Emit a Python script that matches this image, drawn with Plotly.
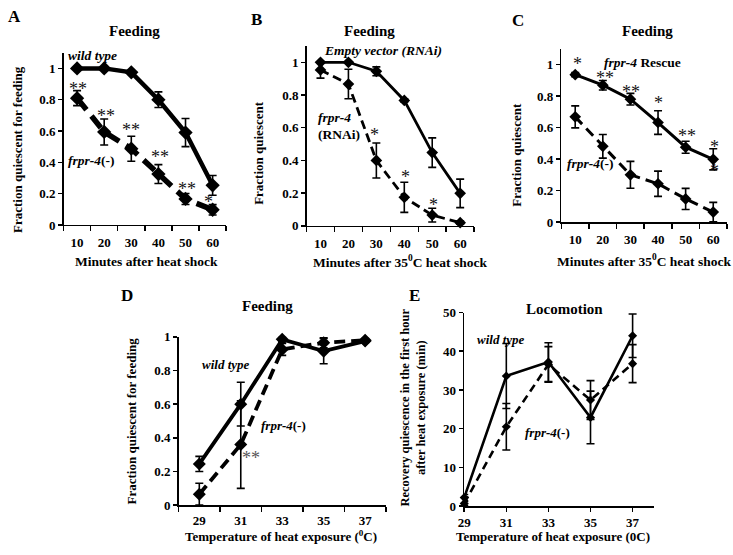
import plotly.graph_objects as go

W, H = 733, 555
FONT = "Liberation Serif, Times New Roman, serif"

# ---------------- data ----------------
minutes = [10, 20, 30, 40, 50, 60]
temps = [29, 31, 33, 35, 37]

# Panel A
a_wt = [1.0, 1.0, 0.975, 0.80, 0.59, 0.253]
a_wt_err = [0.0, 0.0, 0.01, 0.05, 0.09, 0.063]
a_mut = [0.81, 0.594, 0.487, 0.325, 0.166, 0.097]
a_mut_err = [0.048, 0.083, 0.08, 0.06, 0.035, 0.033]
a_stars = ["**", "**", "**", "**", "**", "*"]

# Panel B
b_ev = [1.0, 1.0, 0.945, 0.767, 0.448, 0.199]
b_ev_err = [0.0, 0.0, 0.027, 0.01, 0.09, 0.087]
b_rnai = [0.953, 0.867, 0.40, 0.175, 0.066, 0.02]
b_rnai_err = [0.05, 0.09, 0.107, 0.092, 0.042, 0.01]
b_stars = ["*", "*", "*"]

# Panel C
c_rescue = [0.936, 0.869, 0.780, 0.632, 0.475, 0.398]
c_rescue_err = [0.013, 0.03, 0.037, 0.075, 0.038, 0.067]
c_mut = [0.668, 0.481, 0.30, 0.243, 0.147, 0.063]
c_mut_err = [0.07, 0.075, 0.085, 0.08, 0.067, 0.062]
c_stars = ["*", "**", "**", "*", "**", "*", "*"]

# Panel D
d_wt = [0.245, 0.60, 0.985, 0.915, 0.975]
d_wt_err = [0.045, 0.13, 0.015, 0.075, 0.01]
d_mut = [0.065, 0.36, 0.925, 0.965, 0.98]
d_mut_err = [0.065, 0.26, 0.035, 0.03, 0.01]

# Panel E
e_wt = [2.2, 33.6, 37.2, 22.9, 44.0]
e_wt_err = [0.8, 8.4, 5.0, 6.8, 5.6]
e_mut = [0.7, 20.5, 36.6, 27.4, 36.8]
e_mut_err = [0.5, 6.0, 4.6, 5.0, 4.9]

# ---------------- helpers ----------------
def px(x, y):
    return x / W, 1 - y / H

def dom_x(a, b):
    return [a / W, b / W]

def dom_y(top, bottom):
    return [1 - bottom / H, 1 - top / H]

fig = go.Figure()

def series(x, y, err, n, dash, width, msize, ethick=1.6, ewidth=4):
    sfx = "" if n == 1 else str(n)
    fig.add_trace(go.Scatter(
        x=x, y=y, mode="lines+markers", xaxis="x" + sfx, yaxis="y" + sfx,
        line=dict(color="black", width=width, dash=dash),
        marker=dict(symbol="diamond", size=msize, color="black"),
        error_y=dict(type="data", array=err, color="black", thickness=ethick, width=ewidth),
        showlegend=False, cliponaxis=False, hoverinfo="skip"))

series(minutes, a_wt, a_wt_err, 1, "solid", 4.5, 11)
series(minutes, a_mut, a_mut_err, 1, "15px,8px", 5.5, 11)
series(minutes, b_ev, b_ev_err, 2, "solid", 2.8, 9)
series(minutes, b_rnai, b_rnai_err, 2, "9px,5px", 2.8, 9)
series(minutes, c_rescue, c_rescue_err, 3, "solid", 3.0, 9)
series(minutes, c_mut, c_mut_err, 3, "10px,6px", 3.0, 9)
series(temps, d_wt, d_wt_err, 4, "solid", 3.8, 10)
series(temps, d_mut, d_mut_err, 4, "11px,6px", 3.8, 10)
series(temps, e_wt, e_wt_err, 5, "solid", 2.6, 7)
series(temps, e_mut, e_mut_err, 5, "8px,5px", 2.6, 7)

tickfont = dict(family=FONT, size=13, color="black", weight="bold")

def xaxis_cfg(domain, rng, vals, minor_vals, major_ticks, anchor, standoff=5):
    cfg = dict(domain=domain, range=rng, tickvals=vals, ticktext=[str(v) for v in vals],
               showline=True, linecolor="black", linewidth=1.5, showgrid=False, zeroline=False,
               tickfont=tickfont, anchor=anchor, fixedrange=True)
    if major_ticks:
        cfg.update(ticks="outside", ticklen=4, tickwidth=1.5, tickcolor="black")
    else:
        cfg.update(ticks="", ticklabelstandoff=standoff)
    if minor_vals:
        cfg["minor"] = dict(tickvals=minor_vals, ticks="outside", ticklen=5, tickwidth=1.5,
                            tickcolor="black", showgrid=False)
    return cfg

def yaxis_cfg(domain, rng, vals, labels, anchor):
    return dict(domain=domain, range=rng, tickvals=vals, ticktext=labels,
                showline=True, linecolor="black", linewidth=1.5, showgrid=False, zeroline=False,
                ticks="outside", ticklen=4, tickwidth=1.5, tickcolor="black",
                tickfont=tickfont, anchor=anchor, fixedrange=True)

frac_vals = [0, 0.2, 0.4, 0.6, 0.8, 1]
frac_labels = ["0", "0.2", "0.4", "0.6", "0.8", "1"]
minor_min = [5, 15, 25, 35, 45, 55, 65]

fig.update_layout(
    width=W, height=H, margin=dict(l=0, r=0, t=0, b=0),
    paper_bgcolor="white", plot_bgcolor="white",
    font=dict(family=FONT, color="black"),
    xaxis=xaxis_cfg(dom_x(58, 222), [5, 65], minutes, minor_min, False, "y"),
    yaxis=yaxis_cfg(dom_y(47, 224), [0, 1.1], frac_vals, frac_labels, "x"),
    xaxis2=xaxis_cfg(dom_x(303, 472), [5, 65], minutes, minor_min, False, "y2"),
    yaxis2=yaxis_cfg(dom_y(40, 225), [0, 1.1], frac_vals, frac_labels, "x2"),
    xaxis3=xaxis_cfg(dom_x(560, 727), [5, 65], minutes, minor_min, False, "y3"),
    yaxis3=yaxis_cfg(dom_y(43, 221), [0, 1.1], frac_vals, frac_labels, "x3"),
    xaxis4=xaxis_cfg(dom_x(174, 383), [28, 38], temps, [28, 30, 32, 34, 36, 38], False, "y4", 3),
    yaxis4=yaxis_cfg(dom_y(339, 512), [0, 1], frac_vals, frac_labels, "x4"),
    xaxis5=xaxis_cfg(dom_x(462, 653), [29, 38], temps, None, True, "y5"),
    yaxis5=yaxis_cfg(dom_y(314, 513), [0, 50], [0, 10, 20, 30, 40, 50],
                     ["0", "10", "20", "30", "40", "50"], "x5"),
)

annotations = []

def txt(text, x, y, size=13, angle=0, xanchor="center", color="black", opacity=1):
    if angle:
        x -= 5
    ax, ay = px(x, y)
    annotations.append(dict(text=text, x=ax, y=ay, xref="paper", yref="paper",
                            xanchor=xanchor, yanchor="middle", showarrow=False,
                            textangle=angle, opacity=opacity,
                            font=dict(family=FONT, size=size, color=color)))

# Panel letters
for letter, x, y in [("A", 9, 10), ("B", 253, 13), ("C", 516, 14), ("D", 122, 296), ("E", 412, 297)]:
    txt("<b>" + letter + "</b>", x, y, size=17)

# Panel titles
txt("<b>Feeding</b>", 130, 25, size=15)
txt("<b>Feeding</b>", 366, 25, size=15)
txt("<b>Feeding</b>", 647, 25, size=15)
txt("<b>Feeding</b>", 264, 307, size=15)
txt("<b>Locomotion</b>", 563, 310, size=15)

# Axis titles
txt("<b>Fraction quiescent for feeding</b>", 16, 146, angle=-90)
txt("<b>Minutes after heat shock</b>", 142, 262, size=13.5)
txt("<b>Fraction quiescent</b>", 260, 150, angle=-90)
txt("<b>Minutes after 35<sup>0</sup>C heat shock</b>", 397, 262, size=13.5)
txt("<b>Fraction quiescent</b>", 520, 152, angle=-90)
txt("<b>Minutes after 35<sup>0</sup>C heat shock</b>", 643, 261, size=13.5)
txt("<b>Fraction quiescent for feeding</b>", 132, 425, angle=-90)
txt("<b>Temperature of heat exposure (<sup>0</sup>C)</b>", 277, 544)
txt("<b>Recovery quiescence in the first hour<br>after heat exposure (min)</b>", 415, 412, angle=-90, size=12.5)
txt("<b>Temperature of heat exposure (0C)</b>", 552, 544)

# Series labels
txt("<b><i>wild type</i></b>", 87, 50, size=13.5)
txt("<b><i>frpr-4</i>(-)</b>", 86, 158, size=13.5)
txt("<b><i>Empty vector (RNAi)</i></b>", 380, 45, size=13.5)
txt("<b><i>frpr-4</i></b>", 313, 114, size=13.5, xanchor="left")
txt("<b>(RNAi)</b>", 313, 131, size=13.5, xanchor="left")
txt("<b><i>frpr-4</i> Rescue</b>", 642, 57, size=13.5)
txt("<b><i>frpr-4</i>(-)</b>", 589, 161, size=13.5)
txt("<b><i>wild type</i></b>", 222, 367, size=13)
txt("<b><i>frpr-4</i>(-)</b>", 280, 430, size=13)
txt("<b><i>wild type</i></b>", 499, 342, size=13)
txt("<b><i>frpr-4</i>(-)</b>", 546, 437, size=13)

# Significance stars (positions of star glyph centres); U+FE0E forces text presentation
VS = "\ufe0e"
def star_text(s):
    return "".join(ch + VS for ch in s)

STAR_DY = 2
SS = 18
a_star_pos = [(73, 82), (101, 110), (126, 124), (155, 152), (182, 185), (204, 198)]
for s, (x, y) in zip(a_stars, a_star_pos):
    txt(star_text(s), x, y + STAR_DY, size=SS, color="#111111", opacity=0.99)
b_star_pos = [(372, 130), (403, 173), (431, 202)]
for s, (x, y) in zip(b_stars, b_star_pos):
    txt(star_text(s), x, y + STAR_DY, size=SS, color="#111111", opacity=0.99)
c_star_pos = [(576, 57), (604, 71), (630, 85), (658, 97), (687, 131), (714, 142), (714, 167)]
for s, (x, y) in zip(c_stars, c_star_pos):
    txt(star_text(s), x, y + STAR_DY, size=SS, color="#111111", opacity=0.99)
txt(star_text("**"), 247, 462 + STAR_DY, size=SS, color="#555555", opacity=0.99)

fig.update_layout(annotations=annotations)
fig.write_html("out.html", config={"displayModeBar": False, "staticPlot": True},
               post_script="document.body.style.margin='0';document.body.style.overflow='hidden';")
